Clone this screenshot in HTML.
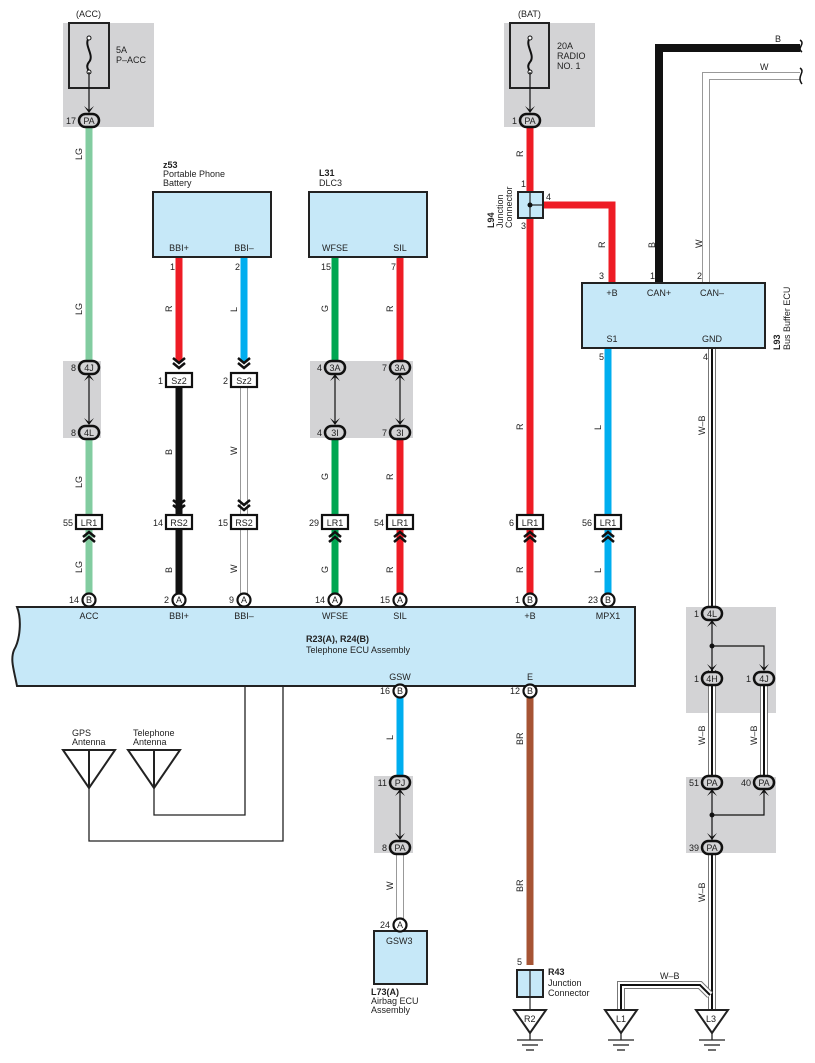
<!DOCTYPE html>
<html><head><meta charset="utf-8"><style>
html,body{margin:0;padding:0;background:#fff;}
svg{display:block;font-family:"Liberation Sans",sans-serif;}
text{font-size:9px;fill:#222;}
.b{font-weight:bold;}
</style></head><body>
<svg width="815" height="1063" viewBox="0 0 815 1063" xmlns="http://www.w3.org/2000/svg">
<defs>
<g id="chd"><polyline points="-6,0 0,5 6,0" fill="none" stroke="#111" stroke-width="2.5"/><polyline points="-6,5 0,10 6,5" fill="none" stroke="#111" stroke-width="2.5"/></g>
<g id="chu"><polyline points="-6,0 0,-5 6,0" fill="none" stroke="#111" stroke-width="2.5"/><polyline points="-6,5 0,0 6,5" fill="none" stroke="#111" stroke-width="2.5"/></g>
<g id="ahd"><path d="M-5,-7 L0,0 L5,-7 L0,-3 Z" fill="#111"/></g>
<g id="ahu"><path d="M-5,7 L0,0 L5,7 L0,3 Z" fill="#111"/></g>
</defs>

<!-- gray boxes -->
<rect x="63" y="23" width="91" height="104" fill="#d3d3d5"/>
<rect x="504" y="23" width="91" height="104" fill="#d3d3d5"/>
<rect x="63" y="361" width="38" height="77" fill="#d3d3d5"/>
<rect x="310" y="361" width="103" height="77" fill="#d3d3d5"/>
<rect x="686" y="607" width="90" height="106" fill="#d3d3d5"/>
<rect x="686" y="777" width="90" height="76" fill="#d3d3d5"/>
<rect x="374" y="776" width="39" height="77" fill="#d3d3d5"/>

<!-- fuses -->
<rect x="69" y="23" width="40" height="65" fill="none" stroke="#222" stroke-width="2"/>
<path d="M89,38 C83,45 95,55 89,62 C85,67 89,70 89,72" fill="none" stroke="#111" stroke-width="2"/>
<circle cx="89" cy="38" r="2" fill="#fff" stroke="#111"/><circle cx="89" cy="72" r="2" fill="#fff" stroke="#111"/>
<line x1="89" y1="72" x2="89" y2="110" stroke="#111" stroke-width="1.2"/><use href="#ahd" x="89" y="113"/>
<text x="76" y="17">(ACC)</text>
<text x="116" y="53">5A</text><text x="116" y="63">P–ACC</text>

<rect x="510" y="23" width="39" height="65" fill="none" stroke="#222" stroke-width="2"/>
<path d="M530,38 C524,45 536,55 530,62 C526,67 530,70 530,72" fill="none" stroke="#111" stroke-width="2"/>
<circle cx="530" cy="38" r="2" fill="#fff" stroke="#111"/><circle cx="530" cy="72" r="2" fill="#fff" stroke="#111"/>
<line x1="530" y1="72" x2="530" y2="110" stroke="#111" stroke-width="1.2"/><use href="#ahd" x="530" y="113"/>
<text x="518" y="17">(BAT)</text>
<text x="557" y="49">20A</text><text x="557" y="59">RADIO</text><text x="557" y="69">NO. 1</text>

<!-- wires -->
<g stroke-width="7" fill="none">
<line x1="89" y1="127" x2="89" y2="361" stroke="#82cca0"/>
<line x1="89" y1="438" x2="89" y2="600" stroke="#82cca0"/>
<line x1="179" y1="258" x2="179" y2="362" stroke="#ee1c25"/>
<line x1="244" y1="258" x2="244" y2="362" stroke="#00aeef"/>
<line x1="179" y1="387" x2="179" y2="600" stroke="#111"/>
<line x1="335" y1="258" x2="335" y2="361" stroke="#00a651"/>
<line x1="335" y1="438" x2="335" y2="600" stroke="#00a651"/>
<line x1="400" y1="258" x2="400" y2="361" stroke="#ee1c25"/>
<line x1="400" y1="438" x2="400" y2="600" stroke="#ee1c25"/>
<line x1="530" y1="127" x2="530" y2="600" stroke="#ee1c25"/>
<polyline points="543,205 612,205 612,283" stroke="#ee1c25"/>
<polyline points="659,283 659,48 800,48" stroke="#111" stroke-width="8"/>
<line x1="608" y1="348" x2="608" y2="600" stroke="#00aeef"/>
<line x1="400" y1="686" x2="400" y2="776" stroke="#00aeef"/>
<line x1="530" y1="686" x2="530" y2="965" stroke="#a65434"/>
</g>
<!-- white wires -->
<g fill="none">
<line x1="244" y1="387" x2="244" y2="600" stroke="#999" stroke-width="8"/>
<line x1="244" y1="387" x2="244" y2="600" stroke="#fff" stroke-width="6"/>
<line x1="400" y1="853" x2="400" y2="925" stroke="#999" stroke-width="8"/>
<line x1="400" y1="853" x2="400" y2="925" stroke="#fff" stroke-width="6"/>
<polyline points="706,283 706,76 800,76" stroke="#999" stroke-width="8"/>
<polyline points="706,283 706,76 800,76" stroke="#fff" stroke-width="6"/>
<polyline points="712,348 712,1012" stroke="#777" stroke-width="8"/>
<polyline points="712,348 712,1012" stroke="#fff" stroke-width="6"/>
<polyline points="712,348 712,1012" stroke="#111" stroke-width="2"/>
<line x1="764" y1="685" x2="764" y2="782" stroke="#777" stroke-width="8"/>
<line x1="764" y1="685" x2="764" y2="782" stroke="#fff" stroke-width="6"/>
<line x1="764" y1="685" x2="764" y2="782" stroke="#111" stroke-width="2"/>
<polyline points="621,1012 621,985 700,985 710,995" stroke="#777" stroke-width="8"/>
<polyline points="621,1012 621,985 700,985 710,995" stroke="#fff" stroke-width="6"/>
<polyline points="621,1012 621,985 700,985 710,995" stroke="#111" stroke-width="2"/>
</g>
<!-- right gray box inner lines -->
<rect x="686" y="620" width="90" height="50" fill="#d3d3d5"/>
<rect x="686" y="790" width="90" height="50" fill="#d3d3d5"/>
<polyline points="712,621 712,670" stroke="#111" stroke-width="1.2" fill="none"/>
<polyline points="712,646 764,646 764,670" stroke="#111" stroke-width="1.2" fill="none"/>
<circle cx="712" cy="646" r="2.5" fill="#111"/>
<use href="#ahu" x="712" y="620"/><use href="#ahd" x="712" y="671"/><use href="#ahd" x="764" y="671"/>
<polyline points="712,790 712,840" stroke="#111" stroke-width="1.2" fill="none"/>
<polyline points="712,815 764,815 764,790" stroke="#111" stroke-width="1.2" fill="none"/>
<circle cx="712" cy="815" r="2.5" fill="#111"/>
<use href="#ahu" x="712" y="789"/><use href="#ahu" x="764" y="789"/><use href="#ahd" x="712" y="840"/>

<!-- 4J-4L, 3A-3I, PJ-PA arrows -->
<g stroke="#111" stroke-width="1.2">
<line x1="89" y1="376" x2="89" y2="424"/><line x1="335" y1="376" x2="335" y2="424"/><line x1="400" y1="376" x2="400" y2="424"/><line x1="400" y1="791" x2="400" y2="839"/>
</g>
<use href="#ahu" x="89" y="374"/><use href="#ahd" x="89" y="425"/>
<use href="#ahu" x="335" y="374"/><use href="#ahd" x="335" y="425"/>
<use href="#ahu" x="400" y="374"/><use href="#ahd" x="400" y="425"/>
<use href="#ahu" x="400" y="789"/><use href="#ahd" x="400" y="840"/>

<!-- boxes -->
<g fill="#c6e8f8" stroke="#222" stroke-width="2">
<rect x="153" y="192" width="118" height="65"/>
<rect x="309" y="192" width="118" height="65"/>
<rect x="582" y="283" width="183" height="65"/>
<path d="M17,607 L635,607 L635,686 L17,686 C14,670 10,660 14,650 C20,640 22,620 17,607 Z"/>
<rect x="374" y="931" width="53" height="53"/>
<rect x="518" y="192" width="25" height="26"/>
<rect x="517" y="970" width="26" height="27"/>
</g>
<line x1="530" y1="192" x2="530" y2="218" stroke="#222" stroke-width="1.2"/>
<line x1="530" y1="205" x2="543" y2="205" stroke="#222" stroke-width="1.2"/>
<circle cx="530" cy="205" r="2.5" fill="#111"/>
<line x1="530" y1="970" x2="530" y2="1010" stroke="#222" stroke-width="1.2"/>

<!-- antennas -->
<g fill="none" stroke="#222">
<path d="M63,750 L115,750 L89,788 Z M89,750 L89,788" stroke-width="2"/>
<path d="M128,750 L180,750 L154,788 Z M154,750 L154,788" stroke-width="2"/>
<polyline points="245,686 245,815 154,815 154,788" stroke-width="1.3"/>
<polyline points="283,686 283,841 89,841 89,788" stroke-width="1.3"/>
</g>
<text x="72" y="736">GPS</text><text x="72" y="745">Antenna</text>
<text x="133" y="736">Telephone</text><text x="133" y="745">Antenna</text>

<!-- grounds -->
<g fill="#fff" stroke="#222" stroke-width="2">
<path d="M514,1010 L546,1010 L530,1033 Z"/>
<path d="M605,1010 L637,1010 L621,1033 Z"/>
<path d="M696,1010 L728,1010 L712,1033 Z"/>
</g>
<g stroke="#222" stroke-width="1.3">
<line x1="530" y1="1033" x2="530" y2="1040"/><line x1="517" y1="1040" x2="543" y2="1040"/><line x1="522" y1="1045" x2="538" y2="1045"/><line x1="526" y1="1050" x2="534" y2="1050"/>
<line x1="621" y1="1033" x2="621" y2="1040"/><line x1="608" y1="1040" x2="634" y2="1040"/><line x1="613" y1="1045" x2="629" y2="1045"/><line x1="617" y1="1050" x2="625" y2="1050"/>
<line x1="712" y1="1033" x2="712" y2="1040"/><line x1="699" y1="1040" x2="725" y2="1040"/><line x1="704" y1="1045" x2="720" y2="1045"/><line x1="708" y1="1050" x2="716" y2="1050"/>
</g>
<text x="524" y="1022">R2</text><text x="616" y="1022">L1</text><text x="706" y="1022">L3</text>

<!-- ovals -->
<g fill="#d3d3d5" stroke="#111" stroke-width="2.5">
<rect x="79" y="114" width="20" height="13" rx="6.5"/>
<rect x="520" y="114" width="20" height="13" rx="6.5"/>
<rect x="79" y="361" width="20" height="13" rx="6.5"/>
<rect x="79" y="426" width="20" height="13" rx="6.5"/>
<rect x="325" y="361" width="20" height="13" rx="6.5"/>
<rect x="325" y="426" width="20" height="13" rx="6.5"/>
<rect x="390" y="361" width="20" height="13" rx="6.5"/>
<rect x="390" y="426" width="20" height="13" rx="6.5"/>
<rect x="390" y="776" width="20" height="13" rx="6.5"/>
<rect x="390" y="841" width="20" height="13" rx="6.5"/>
<rect x="702" y="607" width="20" height="13" rx="6.5"/>
<rect x="702" y="672" width="20" height="13" rx="6.5"/>
<rect x="754" y="672" width="20" height="13" rx="6.5"/>
<rect x="702" y="776" width="20" height="13" rx="6.5"/>
<rect x="754" y="776" width="20" height="13" rx="6.5"/>
<rect x="702" y="841" width="20" height="13" rx="6.5"/>
</g>
<g font-size="8" text-anchor="middle">
<text x="89" y="124" text-anchor="middle">PA</text><text x="530" y="124" text-anchor="middle">PA</text>
<text x="89" y="371" text-anchor="middle">4J</text><text x="89" y="436" text-anchor="middle">4L</text>
<text x="335" y="371" text-anchor="middle">3A</text><text x="335" y="436" text-anchor="middle">3I</text>
<text x="400" y="371" text-anchor="middle">3A</text><text x="400" y="436" text-anchor="middle">3I</text>
<text x="400" y="786" text-anchor="middle">PJ</text><text x="400" y="851" text-anchor="middle">PA</text>
<text x="712" y="617" text-anchor="middle">4L</text><text x="712" y="682" text-anchor="middle">4H</text><text x="764" y="682" text-anchor="middle">4J</text>
<text x="712" y="786" text-anchor="middle">PA</text><text x="764" y="786" text-anchor="middle">PA</text><text x="712" y="851" text-anchor="middle">PA</text>
</g>
<g text-anchor="end">
<text x="76" y="124" text-anchor="end">17</text><text x="517" y="124" text-anchor="end">1</text>
<text x="76" y="371" text-anchor="end">8</text><text x="76" y="436" text-anchor="end">8</text>
<text x="322" y="371" text-anchor="end">4</text><text x="322" y="436" text-anchor="end">4</text>
<text x="387" y="371" text-anchor="end">7</text><text x="387" y="436" text-anchor="end">7</text>
<text x="387" y="786" text-anchor="end">11</text><text x="387" y="851" text-anchor="end">8</text>
<text x="699" y="617" text-anchor="end">1</text><text x="699" y="682" text-anchor="end">1</text><text x="751" y="682" text-anchor="end">1</text>
<text x="699" y="786" text-anchor="end">51</text><text x="751" y="786" text-anchor="end">40</text><text x="699" y="851" text-anchor="end">39</text>
</g>

<!-- rect connectors -->
<g fill="#fff" stroke="#111" stroke-width="2.2">
<rect x="166" y="373" width="26" height="14"/><rect x="231" y="373" width="26" height="14"/>
<rect x="76" y="515" width="26" height="14"/><rect x="166" y="515" width="26" height="14"/><rect x="231" y="515" width="26" height="14"/>
<rect x="322" y="515" width="26" height="14"/><rect x="387" y="515" width="26" height="14"/><rect x="517" y="515" width="26" height="14"/><rect x="595" y="515" width="26" height="14"/>
</g>
<g>
<text x="179" y="384" text-anchor="middle">Sz2</text><text x="244" y="384" text-anchor="middle">Sz2</text>
<text x="89" y="526" text-anchor="middle">LR1</text><text x="179" y="526" text-anchor="middle">RS2</text><text x="244" y="526" text-anchor="middle">RS2</text>
<text x="335" y="526" text-anchor="middle">LR1</text><text x="400" y="526" text-anchor="middle">LR1</text><text x="530" y="526" text-anchor="middle">LR1</text><text x="608" y="526" text-anchor="middle">LR1</text>
<text x="163" y="384" text-anchor="end">1</text><text x="228" y="384" text-anchor="end">2</text>
<text x="73" y="526" text-anchor="end">55</text><text x="163" y="526" text-anchor="end">14</text><text x="228" y="526" text-anchor="end">15</text>
<text x="319" y="526" text-anchor="end">29</text><text x="384" y="526" text-anchor="end">54</text><text x="514" y="526" text-anchor="end">6</text><text x="592" y="526" text-anchor="end">56</text>
</g>
<use href="#chd" x="179" y="358"/><use href="#chd" x="244" y="358"/>
<use href="#chd" x="179" y="500"/><use href="#chd" x="244" y="500"/>
<use href="#chu" x="89" y="537"/><use href="#chu" x="335" y="537"/><use href="#chu" x="400" y="537"/><use href="#chu" x="530" y="537"/><use href="#chu" x="608" y="537"/>

<!-- circle connectors -->
<g fill="#fff" stroke="#111" stroke-width="2.2">
<circle cx="89" cy="600" r="6.5"/><circle cx="179" cy="600" r="6.5"/><circle cx="244" cy="600" r="6.5"/><circle cx="335" cy="600" r="6.5"/><circle cx="400" cy="600" r="6.5"/><circle cx="530" cy="600" r="6.5"/><circle cx="608" cy="600" r="6.5"/>
<circle cx="400" cy="691" r="6.5"/><circle cx="530" cy="691" r="6.5"/><circle cx="400" cy="925" r="6.5"/>
</g>
<g font-size="8">
<text x="89" y="603" text-anchor="middle">B</text><text x="179" y="603" text-anchor="middle">A</text><text x="244" y="603" text-anchor="middle">A</text><text x="335" y="603" text-anchor="middle">A</text><text x="400" y="603" text-anchor="middle">A</text><text x="530" y="603" text-anchor="middle">B</text><text x="608" y="603" text-anchor="middle">B</text>
<text x="400" y="694" text-anchor="middle">B</text><text x="530" y="694" text-anchor="middle">B</text><text x="400" y="928" text-anchor="middle">A</text>
</g>
<text x="79" y="603" text-anchor="end">14</text><text x="169" y="603" text-anchor="end">2</text><text x="234" y="603" text-anchor="end">9</text><text x="325" y="603" text-anchor="end">14</text><text x="390" y="603" text-anchor="end">15</text><text x="520" y="603" text-anchor="end">1</text><text x="598" y="603" text-anchor="end">23</text>
<text x="390" y="694" text-anchor="end">16</text><text x="520" y="694" text-anchor="end">12</text><text x="390" y="928" text-anchor="end">24</text>

<!-- ECU labels -->
<text x="89" y="619" text-anchor="middle">ACC</text><text x="179" y="619" text-anchor="middle">BBI+</text><text x="244" y="619" text-anchor="middle">BBI–</text><text x="335" y="619" text-anchor="middle">WFSE</text><text x="400" y="619" text-anchor="middle">SIL</text><text x="530" y="619" text-anchor="middle">+B</text><text x="608" y="619" text-anchor="middle">MPX1</text>
<text x="400" y="680" text-anchor="middle">GSW</text><text x="530" y="680" text-anchor="middle">E</text>
<text x="306" y="642" class="b">R23(A), R24(B)</text><text x="306" y="653">Telephone ECU Assembly</text>

<!-- component labels -->
<text x="163" y="168" class="b">z53</text><text x="163" y="177">Portable Phone</text><text x="163" y="186">Battery</text>
<text x="319" y="176" class="b">L31</text><text x="319" y="186">DLC3</text>
<text x="179" y="251" text-anchor="middle">BBI+</text><text x="244" y="251" text-anchor="middle">BBI–</text>
<text x="335" y="251" text-anchor="middle">WFSE</text><text x="400" y="251" text-anchor="middle">SIL</text>
<text x="175" y="270" text-anchor="end">1</text><text x="240" y="270" text-anchor="end">2</text><text x="331" y="270" text-anchor="end">15</text><text x="396" y="270" text-anchor="end">7</text>
<text x="612" y="296" text-anchor="middle">+B</text><text x="659" y="296" text-anchor="middle">CAN+</text><text x="712" y="296" text-anchor="middle">CAN–</text>
<text x="612" y="342" text-anchor="middle">S1</text><text x="712" y="342" text-anchor="middle">GND</text>
<text x="604" y="279" text-anchor="end">3</text><text x="655" y="279" text-anchor="end">1</text><text x="702" y="279" text-anchor="end">2</text>
<text x="604" y="360" text-anchor="end">5</text><text x="708" y="360" text-anchor="end">4</text>
<text x="526" y="187" text-anchor="end">1</text><text x="526" y="229" text-anchor="end">3</text><text x="546" y="200">4</text>
<text x="775" y="42">B</text><text x="760" y="70">W</text>
<text transform="translate(780,350) rotate(-90)" class="b">L93</text>
<text transform="translate(790,350) rotate(-90)">Bus Buffer ECU</text>
<text transform="translate(494,228) rotate(-90)" class="b">L94</text>
<text transform="translate(503,228) rotate(-90)">Junction</text>
<text transform="translate(512,228) rotate(-90)">Connector</text>
<text x="386" y="944" text-anchor="start">GSW3</text>
<text x="371" y="995" class="b">L73(A)</text><text x="371" y="1004">Airbag ECU</text><text x="371" y="1013">Assembly</text>
<text x="548" y="975" class="b">R43</text><text x="548" y="986">Junction</text><text x="548" y="996">Connector</text>
<text x="522" y="965" text-anchor="end">5</text>
<text x="660" y="979">W–B</text>

<!-- wire color labels (rotated) -->
<g>
<text transform="translate(82,160) rotate(-90)">LG</text>
<text transform="translate(82,315) rotate(-90)">LG</text>
<text transform="translate(82,488) rotate(-90)">LG</text>
<text transform="translate(82,573) rotate(-90)">LG</text>
<text transform="translate(172,312) rotate(-90)">R</text>
<text transform="translate(237,312) rotate(-90)">L</text>
<text transform="translate(172,455) rotate(-90)">B</text>
<text transform="translate(172,573) rotate(-90)">B</text>
<text transform="translate(237,455) rotate(-90)">W</text>
<text transform="translate(237,573) rotate(-90)">W</text>
<text transform="translate(328,312) rotate(-90)">G</text>
<text transform="translate(393,312) rotate(-90)">R</text>
<text transform="translate(328,480) rotate(-90)">G</text>
<text transform="translate(393,480) rotate(-90)">R</text>
<text transform="translate(328,573) rotate(-90)">G</text>
<text transform="translate(393,573) rotate(-90)">R</text>
<text transform="translate(523,157) rotate(-90)">R</text>
<text transform="translate(523,430) rotate(-90)">R</text>
<text transform="translate(523,573) rotate(-90)">R</text>
<text transform="translate(605,248) rotate(-90)">R</text>
<text transform="translate(655,248) rotate(-90)">B</text>
<text transform="translate(702,248) rotate(-90)">W</text>
<text transform="translate(601,430) rotate(-90)">L</text>
<text transform="translate(601,573) rotate(-90)">L</text>
<text transform="translate(705,435) rotate(-90)">W–B</text>
<text transform="translate(705,745) rotate(-90)">W–B</text>
<text transform="translate(757,745) rotate(-90)">W–B</text>
<text transform="translate(705,902) rotate(-90)">W–B</text>
<text transform="translate(393,740) rotate(-90)">L</text>
<text transform="translate(393,890) rotate(-90)">W</text>
<text transform="translate(523,745) rotate(-90)">BR</text>
<text transform="translate(523,892) rotate(-90)">BR</text>
</g>

<!-- break marks -->
<path d="M800,40 C806,44 796,48 802,52 M800,68 C806,72 796,76 802,84" fill="none" stroke="#111" stroke-width="1.5"/>
</svg>
</body></html>
